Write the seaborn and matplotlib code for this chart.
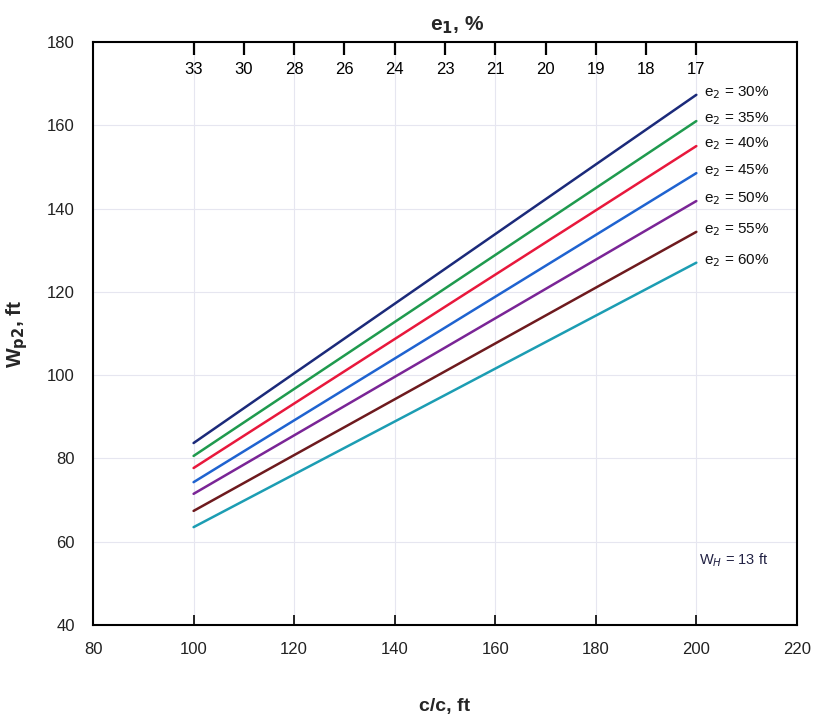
import matplotlib
matplotlib.use("Agg")
import matplotlib.pyplot as plt
import seaborn as sns
import pandas as pd

cc = [100, 150, 200]
e2_labels = ["30%", "35%", "40%", "45%", "50%", "55%", "60%"]
w30 = [83.7, 125.5, 167.3]
w35 = [80.6, 120.8, 161.0]
w40 = [77.7, 116.4, 155.0]
w45 = [74.3, 111.4, 148.5]
w50 = [71.5, 106.6, 141.8]
w55 = [67.4, 100.9, 134.4]
w60 = [63.5, 95.2, 127.0]
series = [w30, w35, w40, w45, w50, w55, w60]
colors = ["#1b2a7a", "#1f9a4e", "#e8183c", "#1f63d0", "#7a2596", "#6e1a1e", "#1c9db3"]

top_tick_pos = [100, 110, 120, 130, 140, 150, 160, 170, 180, 190, 200]
top_tick_labels = ["33", "30", "28", "26", "24", "23", "21", "20", "19", "18", "17"]

rows = []
for lab, vals in zip(e2_labels, series):
    for x, y in zip(cc, vals):
        rows.append({"cc": x, "W": y, "e2": lab})
df = pd.DataFrame(rows)

sns.set_theme(style="white")
plt.rcParams["font.family"] = ["Liberation Sans Narrow", "Liberation Sans", "DejaVu Sans"]

fig = plt.figure(figsize=(8.19, 7.23), dpi=100)
ax = fig.add_axes([0.1136, 0.1355, 0.973 - 0.1136, 0.942 - 0.1355])

sns.lineplot(data=df, x="cc", y="W", hue="e2", palette=colors, legend=False,
             linewidth=1.8, ax=ax)

ax.set_xlim(80, 220)
ax.set_ylim(40, 180)
ax.set_xticks(range(80, 221, 20))
ax.set_yticks(range(40, 181, 20))
ax.grid(True, color="#e6e6f0", linewidth=0.8)
for s in ax.spines.values():
    s.set_color("black")
    s.set_linewidth(1.5)
ax.tick_params(axis="x", direction="in", length=7, width=1.2, labelsize=12, pad=12, colors="black")
ax.tick_params(axis="y", direction="out", length=5, width=1.2, labelsize=12, pad=8, colors="black")
ax.tick_params(axis="both", labelcolor="#222222")

ax.set_xlabel("c/c, ft", fontsize=14, fontweight="bold", labelpad=30)
ax.set_ylabel("W$_{\\mathbf{p2}}$, ft", fontsize=15, fontweight="bold", labelpad=12)
ax.yaxis.set_label_coords(-0.09, 0.5)

for lab, vals, c in zip(e2_labels, series, colors):
    ax.text(201.5, vals[-1] + 0.5, "e$_2$ = " + lab, fontsize=11, color="#111111",
            ha="left", va="center")

ax.text(207.5, 55.6, "W$_H$ = 13 ft", fontsize=10.5, color="#222244", ha="center", va="center")

ax2 = ax.twiny()
ax2.set_xlim(ax.get_xlim())
ax2.set_xticks(top_tick_pos)
ax2.set_xticklabels(top_tick_labels)
ax2.tick_params(axis="x", direction="in", length=9, width=1.6, labelsize=12, pad=-25,
                colors="black")
ax2.grid(False)
for s in ax2.spines.values():
    s.set_visible(False)
fig.text(0.5585, 0.965, "e$_\\mathbf{1}$, %", fontsize=15, fontweight="bold",
         ha="center", va="center")

fig.savefig("out.png", dpi=100)
